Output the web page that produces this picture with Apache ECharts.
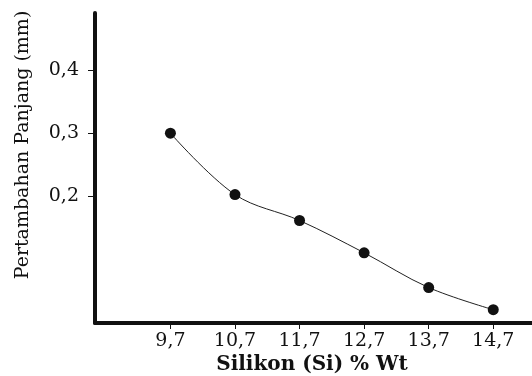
<!DOCTYPE html>
<html>
<head>
<meta charset="utf-8">
<script src="https://cdn.jsdelivr.net/npm/echarts@6/dist/echarts.min.js"></script>
<style>html,body{margin:0;padding:0;background:#fff;}#c{width:532px;height:376px;}</style>
</head>
<body>
<div id="c"></div>
<script>
const siliconValues = [9.7, 10.7, 11.7, 12.7, 13.7, 14.7];
const elongation = [0.300, 0.203, 0.162, 0.111, 0.056, 0.021];
const yTickValues = [0.2, 0.3, 0.4];
const xTitle = 'Silikon (Si) % Wt';
const yTitle = 'Pertambahan Panjang (mm)';

const fmt = v => String(v).replace('.', ',');
const font = 'DejaVu Serif';
const chart = echarts.init(document.getElementById('c'));
chart.setOption({
  animation: false,
  backgroundColor: '#fff',
  grid: { left: 95, right: 0, top: 13, bottom: 53 },
  xAxis: {
    type: 'value', min: 8.532, max: 15.3,
    splitLine: { show: false },
    axisLine: { show: true, onZero: false, lineStyle: { color: '#111', width: 4 } },
    axisTick: { show: true, customValues: siliconValues, length: 6, lineStyle: { color: '#111', width: 1 } },
    axisLabel: { customValues: siliconValues, formatter: fmt, margin: 9, color: '#111', fontFamily: font, fontSize: 19 }
  },
  yAxis: {
    type: 'value', min: 0, max: 0.49,
    splitLine: { show: false },
    axisLine: { show: true, lineStyle: { color: '#111', width: 4 } },
    axisTick: { show: true, customValues: yTickValues, length: 7, lineStyle: { color: '#111', width: 1 } },
    axisLabel: { customValues: yTickValues, formatter: fmt, margin: 16, color: '#111', fontFamily: font, fontSize: 19 }
  },
  graphic: [
    { type: 'text', x: 312, y: 365, style: { text: xTitle, font: 'bold 20px "DejaVu Serif"', fill: '#111', align: 'center', verticalAlign: 'middle' } },
    { type: 'text', x: 23, y: 145, rotation: Math.PI / 2, style: { text: yTitle, font: '19px "DejaVu Serif"', fill: '#111', align: 'center', verticalAlign: 'middle' } }
  ],
  series: [{
    type: 'line',
    data: siliconValues.map((x, i) => [x, elongation[i]]),
    smooth: 0.35,
    symbol: 'circle',
    symbolSize: 11,
    itemStyle: { color: '#111' },
    lineStyle: { color: '#222', width: 1 }
  }]
});
</script>
</body>
</html>
